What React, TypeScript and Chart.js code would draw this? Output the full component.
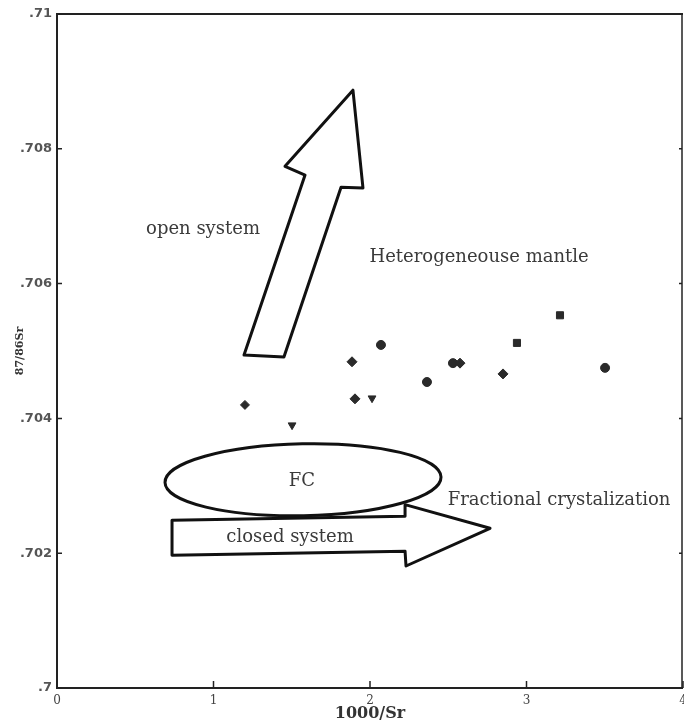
import React, { useEffect, useRef } from 'react';
import { Chart, registerables } from 'chart.js';
Chart.register(...registerables);

// ---- data ----
const xValues = [1.201, 1.502, 1.885, 1.904, 2.013, 2.070, 2.364, 2.530, 2.575, 2.850, 2.939, 3.214, 3.502];
const yValues = [0.70420, 0.70390, 0.70484, 0.70429, 0.70430, 0.70509, 0.70454, 0.70482, 0.70482, 0.70466, 0.70512, 0.70553, 0.70475];
const markers = ['star', 'tri', 'diamond', 'diamond', 'tri', 'circle', 'circle', 'circle', 'diamond', 'diamond', 'square', 'square', 'circle'];

const xTickLabels = ['0', '1', '2', '3', '4'];
const yTickLabels = ['.7', '.702', '.704', '.706', '.708', '.71'];

// annotation shapes in data units
const openArrowX = [1.891, 1.955, 1.815, 1.450, 1.195, 1.585, 1.457];
const openArrowY = [0.70887, 0.70742, 0.70743, 0.70491, 0.70494, 0.70761, 0.70774];
const closedArrowX = [0.735, 2.224, 2.224, 2.767, 2.230, 2.224, 0.735];
const closedArrowY = [0.70249, 0.70255, 0.70272, 0.70237, 0.70181, 0.70203, 0.70197];
const fcEllipseCenter = [1.572, 0.70309];
const fcEllipseRadii = [0.882, 0.000534];

const noteTexts = ['open system', 'Heterogeneouse mantle', 'FC', 'Fractional crystalization', 'closed system'];
const noteX = [0.933, 2.697, 1.565, 3.208, 1.489];
const noteY = [0.70681, 0.70639, 0.70307, 0.70279, 0.70224];

const styleMap: Record<string, string> = { star: 'rectRot', tri: 'triangle', diamond: 'rectRot', circle: 'circle', square: 'rect' };
const radiusMap: Record<string, number> = { star: 4.5, tri: 4.5, diamond: 5, circle: 4.5, square: 5 };

const annotationPlugin = {
  id: 'annot',
  afterDatasetsDraw(chart: any) {
    const { ctx, chartArea: a, scales } = chart;
    const xs = scales.x, ys = scales.y;
    ctx.save();
    // frame
    ctx.strokeStyle = '#222';
    ctx.lineWidth = 2;
    ctx.beginPath();
    ctx.moveTo(a.right, a.top);
    ctx.lineTo(a.left, a.top);
    ctx.lineTo(a.left, a.bottom);
    ctx.lineTo(a.right, a.bottom);
    ctx.stroke();
    ctx.lineWidth = 1.5;
    ctx.beginPath();
    ctx.moveTo(a.right - 1, a.top);
    ctx.lineTo(a.right - 1, a.bottom);
    ctx.stroke();
    // tick marks
    ctx.lineWidth = 1.5;
    ys.ticks.forEach((t: any) => {
      const py = ys.getPixelForValue(t.value);
      ctx.beginPath();
      ctx.moveTo(a.left, py);
      ctx.lineTo(a.left + 5, py);
      ctx.moveTo(a.right - 1, py);
      ctx.lineTo(a.right - 4, py);
      ctx.stroke();
    });
    xs.ticks.forEach((t: any) => {
      const px = xs.getPixelForValue(t.value);
      ctx.beginPath();
      ctx.moveTo(px, a.bottom);
      ctx.lineTo(px, a.bottom - 7);
      ctx.stroke();
    });
    // arrows
    const poly = (X: number[], Y: number[]) => {
      ctx.beginPath();
      X.forEach((v, i) => {
        const px = xs.getPixelForValue(v), py = ys.getPixelForValue(Y[i]);
        if (i === 0) ctx.moveTo(px, py); else ctx.lineTo(px, py);
      });
      ctx.closePath();
      ctx.fillStyle = '#fff';
      ctx.fill();
      ctx.lineWidth = 3;
      ctx.lineJoin = 'round';
      ctx.strokeStyle = '#111';
      ctx.stroke();
    };
    poly(openArrowX, openArrowY);
    poly(closedArrowX, closedArrowY);
    // ellipse
    const cx = xs.getPixelForValue(fcEllipseCenter[0]);
    const cy = ys.getPixelForValue(fcEllipseCenter[1]);
    const rx = xs.getPixelForValue(fcEllipseCenter[0] + fcEllipseRadii[0]) - cx;
    const ry = cy - ys.getPixelForValue(fcEllipseCenter[1] + fcEllipseRadii[1]);
    ctx.beginPath();
    ctx.ellipse(cx, cy, rx, ry, -0.02, 0, Math.PI * 2);
    ctx.lineWidth = 3;
    ctx.stroke();
    // texts
    ctx.fillStyle = '#3a3a3a';
    ctx.font = '18px "DejaVu Serif"';
    ctx.textAlign = 'center';
    ctx.textBaseline = 'middle';
    noteTexts.forEach((s, i) => {
      ctx.fillText(s, xs.getPixelForValue(noteX[i]), ys.getPixelForValue(noteY[i]));
    });
    ctx.restore();
  },
};

export default function App() {
  const ref = useRef<HTMLCanvasElement>(null);
  useEffect(() => {
    if (!ref.current) return;
    const pts = xValues.map((x, i) => ({ x, y: yValues[i] }));
    const chart = new Chart(ref.current, {
      type: 'scatter',
      data: {
        datasets: [{
          data: pts,
          pointStyle: markers.map((m) => styleMap[m]) as any,
          pointRadius: markers.map((m) => radiusMap[m]),
          pointRotation: markers.map((m) => (m === 'tri' ? 180 : 0)),
          backgroundColor: '#2a2a2a',
          borderColor: '#2a2a2a',
          borderWidth: 1,
        }],
      },
      options: {
        animation: false,
        responsive: false,
        layout: { autoPadding: false, padding: { top: 14, right: 1, left: 0, bottom: 0 } },
        plugins: { legend: { display: false }, tooltip: { enabled: false } },
        scales: {
          x: {
            type: 'linear', min: 0, max: 4,
            border: { display: false },
            grid: { display: false, drawTicks: false },
            ticks: {
              stepSize: 1, padding: 6, color: '#444',
              font: { family: '"DejaVu Serif"', size: 12 },
              callback: (v: any) => xTickLabels[Math.round(Number(v))] ?? '',
            },
            title: {
              display: true, text: '1000/Sr', color: '#333',
              font: { family: '"DejaVu Serif"', size: 16, weight: 'bold' },
              padding: { top: 2, bottom: 1 },
            },
            afterFit: (s: any) => { s.height = 36; s.paddingRight = 0; s.paddingLeft = 0; },
          },
          y: {
            type: 'linear', min: 0.7, max: 0.71,
            border: { display: false },
            grid: { display: false, drawTicks: false },
            ticks: {
              stepSize: 0.002, padding: 5, color: '#555',
              font: { family: '"DejaVu Sans"', size: 13, weight: 'bold' },
              callback: (v: any) => yTickLabels[Math.round((Number(v) - 0.7) / 0.002)] ?? '',
            },
            title: {
              display: true, text: '87/86Sr', color: '#333',
              font: { family: '"DejaVu Serif"', size: 11, weight: 'bold' },
              padding: { top: 14, bottom: 0 },
            },
            afterFit: (s: any) => { s.width = 57; s.paddingTop = 0; s.paddingBottom = 0; },
          },
        },
      },
      plugins: [annotationPlugin],
    });
    return () => chart.destroy();
  }, []);
  return (
    <div style={{ position: 'fixed', left: 0, top: 0, width: 684, height: 724, background: '#fff' }}>
      <canvas ref={ref} width={684} height={724} style={{ display: 'block' }} />
    </div>
  );
}
